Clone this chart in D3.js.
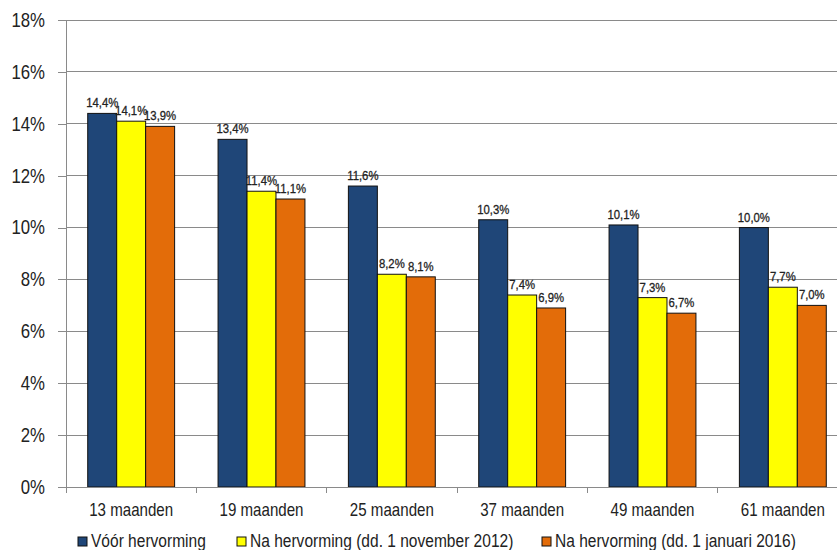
<!DOCTYPE html>
<html>
<head>
<meta charset="utf-8">
<script src="https://cdn.jsdelivr.net/npm/d3@7"></script>
<style>
  body { margin: 0; background: #fff; }
  svg { display: block; }
  text { font-family: "Liberation Sans", Arial, sans-serif; }
</style>
</head>
<body>
<svg id="chart" width="837" height="550"></svg>
<script>
// Duration categories and percentages per reform period
const categories = ["13 maanden", "19 maanden", "25 maanden", "37 maanden", "49 maanden", "61 maanden"];
const seriesNames = ["Vóór hervorming", "Na hervorming (dd. 1 november 2012)", "Na hervorming (dd. 1 januari 2016)"];
const voor = [14.4, 13.4, 11.6, 10.3, 10.1, 10.0];
const na2012 = [14.1, 11.4, 8.2, 7.4, 7.3, 7.7];
const na2016 = [13.9, 11.1, 8.1, 6.9, 6.7, 7.0];
const yTicks = [0, 2, 4, 6, 8, 10, 12, 14, 16, 18];
const colors = ["#1F4678", "#FFFF00", "#E36C09"];

const seriesValues = [voor, na2012, na2016];
const svg = d3.select("#chart");

// Horizontal squeeze to get a narrow typeface look
const NARROW = 0.84;
function narrow(sel) {
  sel.each(function () {
    const t = d3.select(this);
    const x0 = +t.attr("x") || 0;
    t.attr("x", x0 / NARROW).attr("transform", `scale(${NARROW},1)`);
  });
}

const plotLeft = 66, plotRight = 848, plotTop = 20, plotBottom = 487;

const x = d3.scaleBand().domain(categories).range([plotLeft, plotRight]).paddingInner(0).paddingOuter(0);
const groupInner = d3.scaleBand().domain(d3.range(3))
  .range([0, x.bandwidth()]).paddingOuter(0.75).paddingInner(0);
const y = d3.scaleLinear().domain([0, 18]).range([plotBottom, plotTop]);

const fmt = v => v.toFixed(1).replace(".", ",") + "%";

// Horizontal gridlines
svg.append("g").selectAll("line").data(yTicks.filter(t => t > 0)).join("line")
  .attr("x1", plotLeft).attr("x2", 837)
  .attr("y1", d => y(d)).attr("y2", d => y(d))
  .attr("stroke", "#8a8a8a").attr("stroke-width", 1).attr("shape-rendering", "crispEdges");

// Y axis
const yAxis = d3.axisLeft(y).tickValues(yTicks).tickSize(8).tickPadding(13).tickFormat(d => d + "%");
const gy = svg.append("g").attr("transform", `translate(${plotLeft},0)`).call(yAxis);
gy.select(".domain").attr("stroke", "#8a8a8a").attr("shape-rendering", "crispEdges");
gy.selectAll(".tick line").attr("stroke", "#8a8a8a").attr("shape-rendering", "crispEdges");
gy.selectAll(".tick text").attr("font-size", 20).attr("fill", "#222")
  .style("font-family", "'Liberation Sans', Arial, sans-serif").call(narrow);

// Bars
const groups = svg.append("g").selectAll("g").data(categories).join("g")
  .attr("transform", d => `translate(${x(d)},0)`);

groups.selectAll("rect").data((c, i) => seriesValues.map((s, k) => ({ k, v: s[i] })))
  .join("rect")
  .attr("x", d => groupInner(d.k))
  .attr("width", groupInner.bandwidth())
  .attr("y", d => y(d.v))
  .attr("height", d => y(0) - y(d.v))
  .attr("fill", d => colors[d.k])
  .attr("stroke", "#111").attr("stroke-width", 1);

// Value labels
groups.selectAll("text.val").data((c, i) => seriesValues.map((s, k) => ({ k, v: s[i] })))
  .join("text").attr("class", "val")
  .attr("x", d => groupInner(d.k) + groupInner.bandwidth() / 2)
  .attr("y", d => y(d.v) - 6)
  .attr("text-anchor", "middle")
  .attr("font-size", 13.5).attr("fill", "#222")
  .style("paint-order", "stroke").attr("stroke", "#222").attr("stroke-width", 0.3)
  .text(d => fmt(d.v))
  .call(narrow);

// X axis
const xAxis = d3.axisBottom(x).tickSize(0).tickPadding(16);
const gx = svg.append("g").attr("transform", `translate(0,${plotBottom})`).call(xAxis);
gx.select(".domain").attr("stroke", "#8a8a8a").attr("shape-rendering", "crispEdges");
gx.selectAll(".tick text").attr("font-size", 18).attr("fill", "#222")
  .style("font-family", "'Liberation Sans', Arial, sans-serif").call(narrow);
// Category boundary ticks
svg.append("g").selectAll("line").data(categories).join("line")
  .attr("x1", d => x(d)).attr("x2", d => x(d))
  .attr("y1", plotBottom).attr("y2", plotBottom + 6)
  .attr("stroke", "#8a8a8a").attr("shape-rendering", "crispEdges");

// Legend
const legendX = [78, 237, 542];
const lg = svg.append("g").selectAll("g").data(seriesNames).join("g")
  .attr("transform", (d, i) => `translate(${legendX[i]},537)`);
lg.append("rect").attr("width", 9).attr("height", 9)
  .attr("fill", (d, i) => colors[i]).attr("stroke", "#111").attr("stroke-width", 1);
lg.append("text").attr("x", 13).attr("y", 10).attr("font-size", 18.5).attr("fill", "#222")
  .text(d => d).call(narrow);
</script>
</body>
</html>
